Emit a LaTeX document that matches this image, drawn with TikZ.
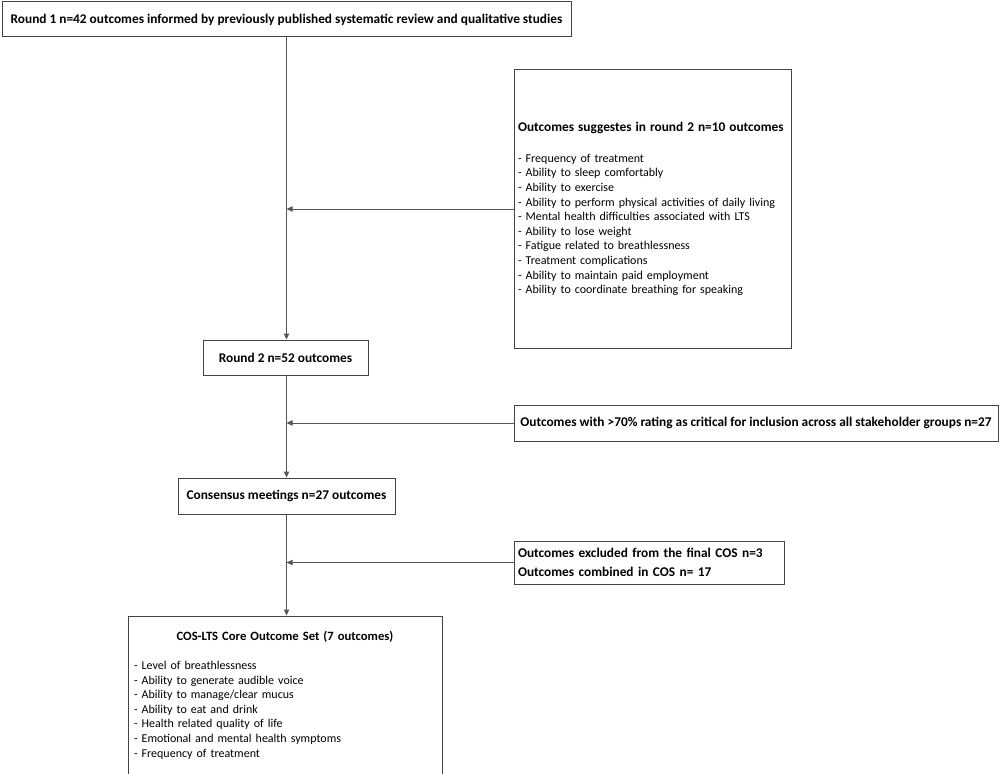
\documentclass[tikz,border=0pt]{standalone}
\usepackage{fontspec}
\setmainfont{Carlito}
\usetikzlibrary{arrows.meta}
\definecolor{linec}{HTML}{555555}
\definecolor{boxc}{HTML}{444444}
\tikzset{
  box/.style={draw=boxc, line width=0.75pt, rectangle, inner sep=3pt, font=\fontsize{9}{10.95}\selectfont},
  bbox/.style={box, font=\fontsize{10}{10.95}\selectfont\bfseries},
  flow/.style={draw=linec, line width=0.75pt, -{Triangle[length=4.5pt,width=4pt]}},
}
\begin{document}
\begin{tikzpicture}[x=0.75pt,y=-0.75pt]
\useasboundingbox (0,0) rectangle (1000,774);
% main boxes
\node[bbox, minimum width=569*0.75pt, minimum height=35*0.75pt] (r1) at (286.5,19.5) {Round 1 n=42 outcomes informed by previously published systematic review and qualitative studies};
\node[bbox, minimum width=165*0.75pt, minimum height=35*0.75pt] (r2) at (285.5,357.5) {Round 2 n=52 outcomes};
\node[bbox, minimum width=217*0.75pt, minimum height=36*0.75pt] (cm) at (286.5,496) {Consensus meetings n=27 outcomes};
\node[box, minimum width=314*0.75pt, minimum height=158*0.75pt, text width=302*0.75pt, align=left] (cos) at (285,695) {\hfill{\fontsize{9.5}{10.95}\selectfont\bfseries COS-LTS Core Outcome Set (7 outcomes)}\hfill\null\\[11pt]
- Level of breathlessness\\
- Ability to generate audible voice\\
- Ability to manage/clear mucus\\
- Ability to eat and drink\\
- Health related quality of life\\
- Emotional and mental health symptoms\\
- Frequency of treatment};
% side boxes
\node[box, minimum width=277*0.75pt, minimum height=278*0.75pt, text width=269*0.75pt, align=left] (sug) at (652.5,209) {{\fontsize{10}{10.95}\selectfont\bfseries Outcomes suggestes in round 2 n=10 outcomes}\\[12pt]
- Frequency of treatment\\
- Ability to sleep comfortably\\
- Ability to exercise\\
- Ability to perform physical activities of daily living\\
- Mental health difficulties associated with LTS\\
- Ability to lose weight\\
- Fatigue related to breathlessness\\
- Treatment complications\\
- Ability to maintain paid employment\\
- Ability to coordinate breathing for speaking};
\node[bbox, minimum width=484*0.75pt, minimum height=36*0.75pt] (crit) at (756,423) {Outcomes with >70\% rating as critical for inclusion across all stakeholder groups n=27};
\node[box, minimum width=270*0.75pt, minimum height=43*0.75pt, text width=262*0.75pt, align=left, font=\fontsize{10}{14}\selectfont\bfseries] (exc) at (649,562.5) {Outcomes excluded from the final COS n=3\\
Outcomes combined in COS n= 17};
% junction coordinates
\coordinate (j1) at (r1.south |- sug.west);
\coordinate (j2) at (r1.south |- crit.west);
\coordinate (j3) at (r1.south |- exc.west);
% connectors
\draw[flow] (r1.south) -- (r1.south |- r2.north);
\draw[flow] (r1.south |- r2.south) -- (r1.south |- cm.north);
\draw[flow] (r1.south |- cm.south) -- (r1.south |- cos.north);
\draw[flow] (sug.west) -- (j1);
\draw[flow] (crit.west) -- (j2);
\draw[flow] (exc.west) -- (j3);
\end{tikzpicture}
\end{document}
